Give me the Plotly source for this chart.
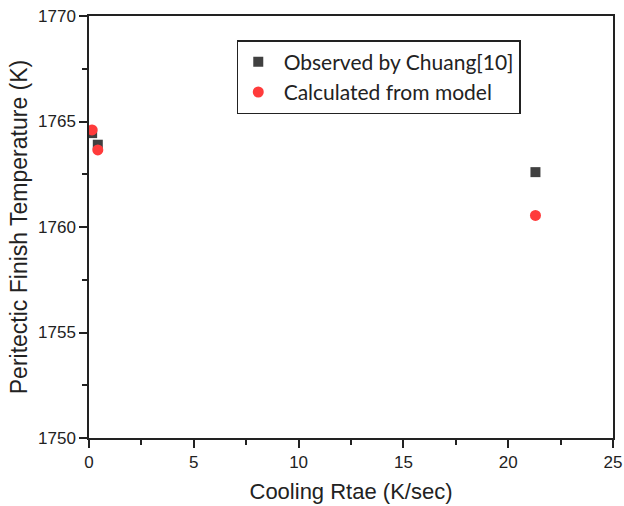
import plotly.graph_objects as go

obs_x = [0.15, 0.42, 21.3]
obs_y = [1764.45, 1763.9, 1762.6]
calc_x = [0.15, 0.42, 21.3]
calc_y = [1764.6, 1763.65, 1760.55]

x_ticks = [0, 5, 10, 15, 20, 25]
y_ticks = [1750, 1755, 1760, 1765, 1770]

AX_FONT = "Liberation Sans"
NB = "\u00a0"

fig = go.Figure()
fig.add_trace(go.Scatter(x=obs_x, y=obs_y, mode="markers", name=NB + "Observed by Chuang[10]",
                         marker=dict(symbol="square", size=10, color="#404040")))
fig.add_trace(go.Scatter(x=calc_x, y=calc_y, mode="markers", name=NB + "Calculated from model",
                         marker=dict(symbol="circle", size=11, color="#ff3b3b")))

axis_common = dict(showgrid=False, zeroline=False, showline=True, linecolor="#222222", linewidth=1.5,
                   mirror=True, ticks="outside", ticklen=8, tickwidth=1.5, tickcolor="#222222",
                   automargin=False, ticklabeloverflow="allow",
                   tickfont=dict(family=AX_FONT, size=17, color="#222222"),
                   minor=dict(ticks="outside", ticklen=5, tickwidth=1.5, tickcolor="#222222"))

fig.update_xaxes(range=[0, 25], tickvals=x_ticks, minor_dtick=2.5,
                 title=dict(text="Cooling Rtae (K/sec)", font=dict(family=AX_FONT, size=22, color="#222222"), standoff=12),
                 **axis_common)
fig.update_yaxes(range=[1750, 1770], tickvals=y_ticks, minor_dtick=2.5,
                 title=dict(text="Peritectic Finish Temperature (K)", font=dict(family=AX_FONT, size=23, color="#222222"), standoff=4),
                 **axis_common)

fig.update_layout(
    width=624, height=506,
    margin=dict(l=89, r=11, t=16, b=68),
    paper_bgcolor="white", plot_bgcolor="white",
    showlegend=True,
    legend=dict(x=0.282, y=0.943, xanchor="left", yanchor="top",
                bordercolor="#222222", borderwidth=1.5, bgcolor="white",
                font=dict(family="Lato", size=21, color="#222222"),
                itemsizing="trace", tracegroupgap=0),
)

fig.write_html("out.html")
